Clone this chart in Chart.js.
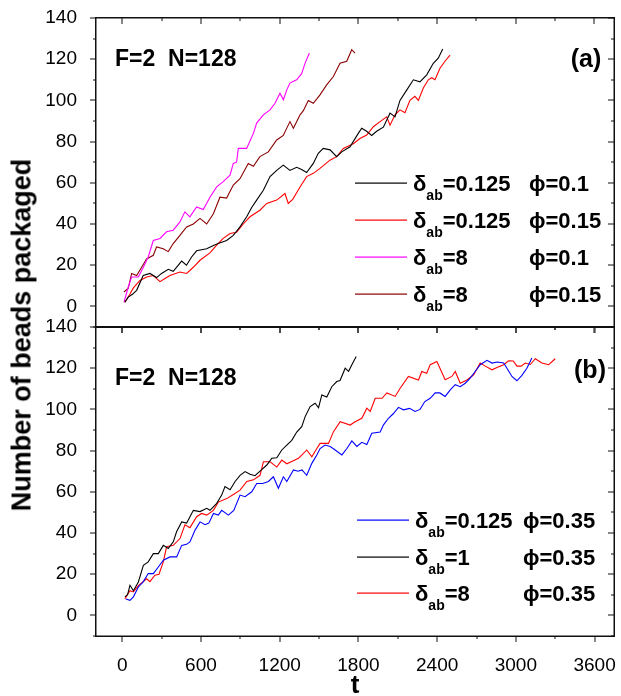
<!DOCTYPE html>
<html>
<head>
<meta charset="utf-8">
<script src="https://cdn.jsdelivr.net/npm/chart.js@4.4.1/dist/chart.umd.min.js"></script>
<style>
  html, body { margin: 0; padding: 0; background: #fff; }
  #page { position: relative; width: 621px; height: 696px; overflow: hidden; }
  canvas { position: absolute; left: 0; }
  #cA { top: -5px; }
  #cB { top: 304px; }
  #ytitle {
    position: absolute; left: 22px; top: 335px;
    transform: translate(-50%, -50%) rotate(-90deg);
    font: bold 27px 'Liberation Sans', Arial, sans-serif;
    white-space: nowrap; color: #000;
  }
</style>
</head>
<body>
<div id="page">
  <canvas id="cA" width="621" height="355"></canvas>
  <canvas id="cB" width="626" height="391"></canvas>
  <div id="ytitle">Number of beads packaged</div>
</div>
<script>
// ticks
const xTicks = [0, 600, 1200, 1800, 2400, 3000, 3600];
const yTicks = [0, 20, 40, 60, 80, 100, 120, 140];

// panel (a)
const tA1 = [20,46,80,110,160,211,262,300,351,389,453,490,529,567,644,695,732,796,847,898,949,987,1025,1076,1127,1178,1228,1279,1330,1368,1406,1457,1495,1533,1585,1635,1674,1737,1800,1826,1864,1902,1940,1991,2042,2080,2118,2169,2220,2270,2322,2372,2410,2444];
const yA1 = [2,4.5,6,7.8,15,16,14,16,18,17,22,20,24,27,28,29.6,30.5,32,34.5,38.6,43.5,48,51.6,56.4,63,66,68.6,66,67.5,66.5,65,69.4,74.3,76.7,76,72.7,75,77.5,84,86.5,85,83,85,87,93.8,92,100,105,110,109,112.4,118,120.5,125];

const tA2 = [20,59,85,135,186,237,288,326,364,440,491,542,593,669,720,770,822,872,923,974,1050,1102,1178,1241,1266,1300,1356,1406,1457,1508,1584,1635,1686,1762,1813,1864,1915,1966,2017,2042,2080,2118,2156,2194,2232,2258,2296,2334,2360,2385,2423,2461,2500];
const yA2 = [2,6,9,12.6,14.3,15,12,13.5,15,16.7,16,19,22.4,26,29.7,33,35.4,36,40,43.5,46.7,50,51.6,54.8,50,52,58,63,64.6,67,71,72.7,76.7,79,81.5,83.2,87.2,89.7,92,88,93,95.4,94,100,102,100,106,110,111,110,115.6,119,122];

const tA3 = [13,46,72,123,161,198,237,288,338,389,440,478,516,567,618,669,720,770,822,847,872,885,949,1000,1025,1076,1127,1165,1203,1229,1254,1279,1330,1368,1394,1427];
const yA3 = [2,9.4,14.3,14.3,19,24,32,33,36.2,37,41,45.9,43.5,48.3,47,53,58,60.6,63.7,69.4,70,76.7,76.7,84,89,93,95.4,98.6,103.5,100.3,105,108.4,110,113,118,123];

const tA4 = [13,46,72,110,148,186,237,262,313,351,389,440,491,542,593,644,695,745,796,847,898,961,1000,1050,1114,1178,1228,1279,1305,1356,1381,1419,1457,1508,1559,1610,1661,1712,1750,1775];
const yA4 = [7,8.8,16,15,19,23,24.8,28.9,28,26.6,30.5,34.5,38.6,40,42.7,40,45,53,52.6,58.9,62,69.4,68,72.7,75,80.8,83,89.7,86.5,93,95,100,98.6,102.7,107.5,111.6,118,119,124.6,123];

// panel (b)
const tB1 = [28,59,85,123,161,198,237,275,313,364,415,453,490,516,555,593,631,660,695,732,758,809,850,898,936,987,1025,1070,1114,1152,1190,1228,1254,1305,1340,1370,1406,1445,1483,1508,1546,1585,1623,1674,1712,1750,1788,1826,1864,1902,1966,1991,2029,2067,2105,2143,2190,2232,2270,2306,2347,2385,2420,2461,2500,2538,2576,2614,2652,2690,2728,2780,2818,2860,2907,2932,2970,3008,3046,3084,3122];
const yB1 = [8,7.3,9,13.8,16.4,20.3,20.3,23.5,26.8,28.4,28.4,34,34.5,35.7,41.4,45.4,44,44.8,49.5,48.7,51,48.7,51,58.4,57.6,60,64,64,65,67.3,61.7,67.3,65,70.6,70,70.6,68,73.8,77.9,81,82.7,82,80.3,77.9,81,84.7,82,84,83,88.4,89,92.5,95.7,98,101,99.8,100.5,99,100,103.8,105.4,108,108,106.3,109.5,112,111,112.7,115.2,118.4,121.7,123.8,122.5,123,122.5,120,116,113.9,116.5,120,125];

const tB2 = [20,40,59,85,123,161,198,237,275,313,351,389,414,453,491,542,593,644,669,720,758,783,822,860,898,936,974,1012,1050,1102,1140,1178,1216,1254,1292,1330,1368,1394,1432,1470,1496,1521,1559,1597,1635,1660,1699,1725,1750,1783];
const yB2 = [9,10,14.6,12,16.2,24.3,26,30,30,34,32.5,35.7,40.6,45.4,44.8,51,50.4,52,51,54.4,58.4,62.5,61,65,68,69.8,68.5,67.8,70,73,76.3,76.5,80.3,82.7,85,89,91.6,96.5,101.4,103,100.8,107,106,111,113.5,114,120,118.5,121.7,125.7];

const tB3 = [20,59,85,123,186,211,249,280,313,338,389,440,478,516,567,605,644,695,732,796,847,898,949,1000,1050,1076,1127,1178,1216,1254,1300,1343,1368,1406,1445,1483,1508,1546,1572,1610,1661,1737,1775,1826,1864,1890,1928,1980,2017,2080,2118,2181,2258,2283,2320,2347,2398,2461,2512,2538,2576,2627,2678,2728,2767,2818,2860,2907,2945,2980,3008,3040,3071,3110,3148,3199,3250,3300];
const yB3 = [8,12,11.4,14.4,17.8,16.4,19.5,20,26,33.3,34,37.3,44,42.6,47.9,49.5,48.7,51,55,56.7,58.7,60.8,65,65.8,68,74.6,74.6,72,75.4,73.6,75,76.3,77.8,80.3,77,81,83.5,83.5,83.5,89.2,94,92.4,94,95.7,100.6,99,105.4,105.4,108,106.3,110.3,116,114.3,118.4,117.5,121.7,123.3,114.4,116,118.4,112.7,114.3,116.8,122.5,121,119.2,120.5,121.7,123.6,123.5,121,121,122.5,121.8,124.6,122.5,121.7,124.6];

const FONT = "'Liberation Sans', Arial, sans-serif";
Chart.defaults.font.family = FONT;
Chart.defaults.color = '#000';

function pts(t, y) {
    return t.map((v, i) => ({ x: v, y: y[i] }));
}

function serie(t, y, color) {
    return {
        data: pts(t, y),
        borderColor: color,
        borderWidth: 1.1,
        pointRadius: 0,
        tension: 0,
        fill: false
    };
}

// marcos y ticks (con fillRect, el strokeRect no salia)
function drawFrame(chart) {
    const ctx = chart.ctx;
    const a = chart.chartArea;
    const x = chart.scales.x, y = chart.scales.y;
    const L = Math.round(a.left), R = Math.round(a.right), T = Math.round(a.top), B = Math.round(a.bottom);
    ctx.save();
    ctx.fillStyle = '#111';
    ctx.fillRect(L - 1, T - 1, R - L + 2, 1.5);
    ctx.fillRect(L - 1, B - 0.5, R - L + 2, 1.5);
    ctx.fillRect(L - 1, T - 1, 1.5, B - T + 2);
    ctx.fillRect(R - 0.5, T - 1, 1.5, B - T + 2);
    for (let v = 0; v <= 3600; v += 300) {
        const px = Math.round(x.getPixelForValue(v));
        const len = v % 600 ? 3 : 6;
        ctx.fillRect(px - 0.5, B, 1, len);
        ctx.fillRect(px - 0.5, T, 1, len);
    }
    for (let v = -10; v <= 140; v += 10) {
        const py = Math.round(y.getPixelForValue(v));
        const len = v % 20 ? 3 : 6;
        ctx.fillRect(L - len, py - 0.5, len, 1);
        ctx.fillRect(R - len, py - 0.5, len, 1);
    }
    ctx.restore();
}

// textos: leyenda, etiquetas
function legendRow(ctx, row) {
    ctx.fillStyle = row.color;
    ctx.fillRect(row.x0, row.y - 0.5, 52, 1.2);
    ctx.fillStyle = '#000';
    let tx = row.x0 + 58;
    const base = row.y + 8;
    ctx.textAlign = 'left';
    ctx.textBaseline = 'alphabetic';
    ctx.font = 'bold 22px ' + FONT;
    ctx.fillText('δ', tx, base);
    tx += ctx.measureText('δ').width;
    ctx.font = 'bold 14px ' + FONT;
    ctx.fillText('ab', tx, base + 9);
    tx += ctx.measureText('ab').width;
    ctx.font = 'bold 22px ' + FONT;
    ctx.fillText('=' + row.d, tx, base);
    ctx.fillText('ϕ=' + row.p, row.px, base);
}

function panelPlugin(tag, rows, off, fy, tagPos, showT) {
    return {
        id: 'panel' + tag,
        afterDraw(chart) {
            drawFrame(chart);
            const ctx = chart.ctx;
            ctx.save();
            ctx.translate(0, -off);
            ctx.fillStyle = '#000';
            ctx.font = 'bold 23px ' + FONT;
            ctx.textAlign = 'left';
            ctx.textBaseline = 'alphabetic';
            ctx.fillText('F=2  N=128', 115, fy);
            ctx.font = 'bold 25px ' + FONT;
            ctx.textAlign = 'center';
            ctx.textBaseline = 'middle';
            ctx.fillText('(' + tag + ')', tagPos[0], tagPos[1]);
            rows.forEach(r => legendRow(ctx, r));
            if (showT) {
                ctx.fillStyle = '#000';
                ctx.font = 'bold 26px ' + FONT;
                ctx.textAlign = 'center';
                ctx.textBaseline = 'alphabetic';
                ctx.fillText('t', 355, 693);
            }
            ctx.restore();
        }
    };
}

function options(showX) {
    return {
        responsive: false,
        animation: false,
        events: [],
        layout: { padding: showX ? { top: 23, right: 7, bottom: 0, left: 0 } : { top: 23, right: 7, bottom: 23, left: 0 } },
        plugins: { legend: { display: false }, tooltip: { enabled: false } },
        scales: {
            x: {
                type: 'linear',
                min: -200,
                max: 3750,
                display: showX,
                afterBuildTicks: s => { s.ticks = xTicks.map(v => ({ value: v })); },
                afterFit: s => { s.height = showX ? 59 : 0; },
                grid: { display: false },
                border: { display: false },
                ticks: { font: { size: 19 }, padding: 10, maxRotation: 0, color: '#000', callback: v => String(v) }
            },
            y: {
                min: -10,
                max: 140,
                afterBuildTicks: s => { s.ticks = yTicks.map(v => ({ value: v })); },
                afterFit: s => { s.width = 96; },
                grid: { display: false },
                border: { display: false },
                ticks: { font: { size: 19 }, padding: 11, color: '#000' }
            }
        }
    };
}

// posiciones en coordenadas de pagina
const rowsA = [
    { color: '#000000', d: '0.125', p: '0.1', x0: 355, y: 183, px: 529 },
    { color: '#ff0000', d: '0.125', p: '0.15', x0: 355, y: 220, px: 529 },
    { color: '#ff00ff', d: '8', p: '0.1', x0: 355, y: 257, px: 529 },
    { color: '#8b0000', d: '8', p: '0.15', x0: 355, y: 294, px: 529 }
];
const rowsB = [
    { color: '#0000ff', d: '0.125', p: '0.35', x0: 357, y: 520, px: 523 },
    { color: '#000000', d: '1', p: '0.35', x0: 357, y: 557, px: 523 },
    { color: '#ff0000', d: '8', p: '0.35', x0: 357, y: 593, px: 523 }
];

new Chart(document.getElementById('cA'), {
    type: 'line',
    data: {
        datasets: [
            serie(tA1, yA1, '#000000'),
            serie(tA2, yA2, '#ff0000'),
            serie(tA3, yA3, '#ff00ff'),
            serie(tA4, yA4, '#8b0000')
        ]
    },
    options: options(false),
    plugins: [panelPlugin('a', rowsA, -5, 66, [586, 60], false)]
});

new Chart(document.getElementById('cB'), {
    type: 'line',
    data: {
        datasets: [
            serie(tB1, yB1, '#0000ff'),
            serie(tB2, yB2, '#000000'),
            serie(tB3, yB3, '#ff0000')
        ]
    },
    options: options(true),
    plugins: [panelPlugin('b', rowsB, 304, 385, [590, 371], true)]
});
</script>
</body>
</html>
